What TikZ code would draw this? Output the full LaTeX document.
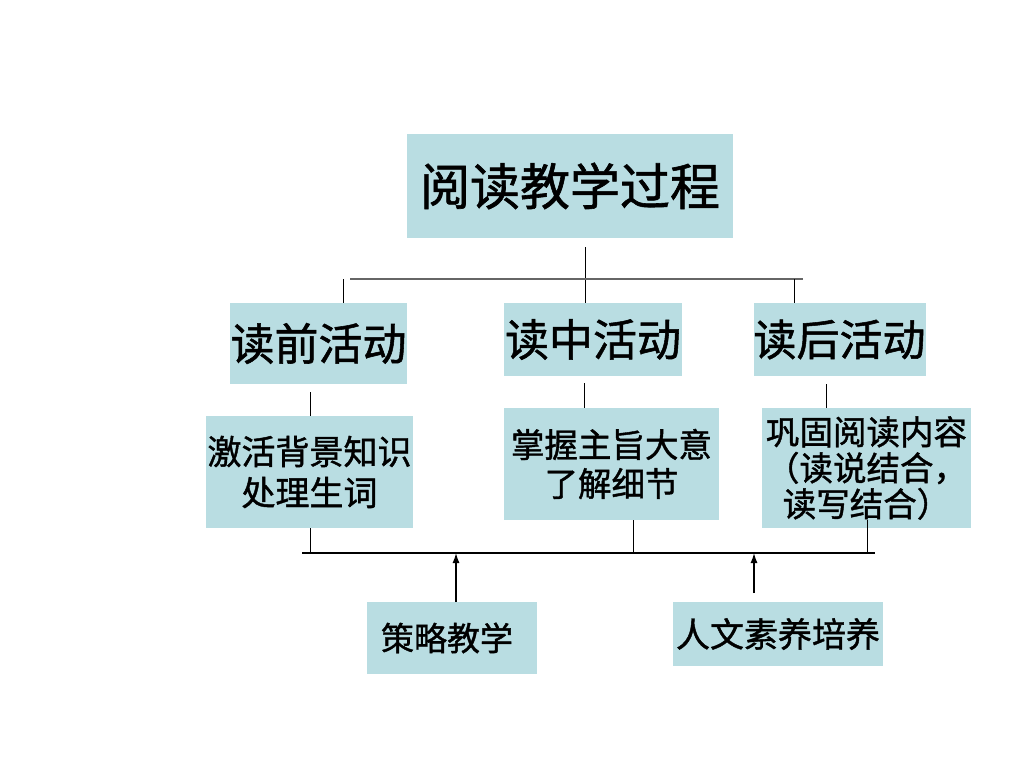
\documentclass[tikz,border=0pt]{standalone}
\usepackage{fontspec}
\newfontfamily\cjk[FakeBold=1.2]{Noto Sans CJK SC}
\usetikzlibrary{arrows.meta,calc}
\definecolor{boxfill}{RGB}{185,221,226}
\tikzset{
  cbox/.style={fill=boxfill, draw=none, inner sep=0pt, align=center, text=black},
  thinline/.style={draw=black, line width=1pt},
  grayline/.style={draw=black!60, line width=2pt},
  baseline/.style={draw=black, line width=1.5pt},
  uparrow/.style={draw=black, line width=1.3pt, -{Latex[length=10pt,width=7pt]}}
}
\begin{document}
\begin{tikzpicture}[x=1pt,y=-1pt]
\useasboundingbox[fill=white] (0,0) rectangle (1024,768);
% boxes
\node[cbox, minimum width=326pt, minimum height=104pt, font=\cjk\fontsize{50}{56}\selectfont] (top) at (570,186) {阅读教学过程};
\node[cbox, minimum width=177pt, minimum height=81pt, font=\cjk\fontsize{44}{50}\selectfont] (pre) at (318.5,343.5) {读前活动};
\node[cbox, minimum width=178pt, minimum height=73pt, font=\cjk\fontsize{44}{50}\selectfont] (mid) at (593,339.5) {读中活动};
\node[cbox, minimum width=171pt, minimum height=73pt, font=\cjk\fontsize{43}{50}\selectfont] (post) at (839.5,339.5) {读后活动};
\node[cbox, minimum width=207pt, minimum height=112pt, font=\cjk\fontsize{34}{41}\selectfont] (preA) at (309.5,472) {激活背景知识\\处理生词};
\node[cbox, minimum width=215pt, minimum height=112pt, font=\cjk\fontsize{33.5}{39}\selectfont] (midA) at (611.5,464) {掌握主旨大意\\了解细节};
\node[cbox, minimum width=209pt, minimum height=120pt, font=\cjk\fontsize{33.5}{36}\selectfont] (postA) at (866.5,468) {巩固阅读内容\\（读说结合，\\读写结合）};
\node[cbox, minimum width=170pt, minimum height=72pt, font=\cjk\fontsize{33}{40}\selectfont] (strat) at (452,638) {\hspace*{-10pt}策略教学};
\node[cbox, minimum width=210pt, minimum height=64pt, font=\cjk\fontsize{34}{40}\selectfont] (human) at (778,634) {人文素养培养};
% tree lines
\coordinate (tj) at (585,247);
\coordinate (hl) at (350,279);
\coordinate (hr) at (803,279);
\coordinate (l1) at (343,279);
\coordinate (r1) at (794,279);
\draw[thinline] (tj) -- (tj |- mid.north);
\draw[grayline] (hl) -- (hr);
\draw[thinline] (l1) -- (l1 |- pre.north);
\draw[thinline] (r1) -- (r1 |- post.north);
\coordinate (p2) at (310,392);
\coordinate (m2) at (584,383);
\coordinate (q2) at (826,384);
\draw[thinline] (p2) -- (p2 |- preA.north);
\draw[thinline] (m2) -- (m2 |- midA.north);
\draw[thinline] (q2) -- (q2 |- postA.north);
% bottom bar
\coordinate (bl) at (302,553);
\coordinate (br) at (875,553);
\coordinate (b1) at (310,553);
\coordinate (b2) at (633,553);
\coordinate (b3) at (867,553);
\coordinate (b3t) at (867,520);
\draw[baseline] (bl) -- (br);
\draw[thinline] (b1 |- preA.south) -- (b1);
\draw[thinline] (b2 |- midA.south) -- (b2);
\draw[thinline] (b3t) -- (b3);
\coordinate (a1) at (456,553);
\coordinate (a2t) at (754,593);
\coordinate (a2) at (754,553);
\draw[uparrow] (a1 |- strat.north) -- (a1);
\draw[uparrow] (a2t) -- (a2);
\end{tikzpicture}
\end{document}
